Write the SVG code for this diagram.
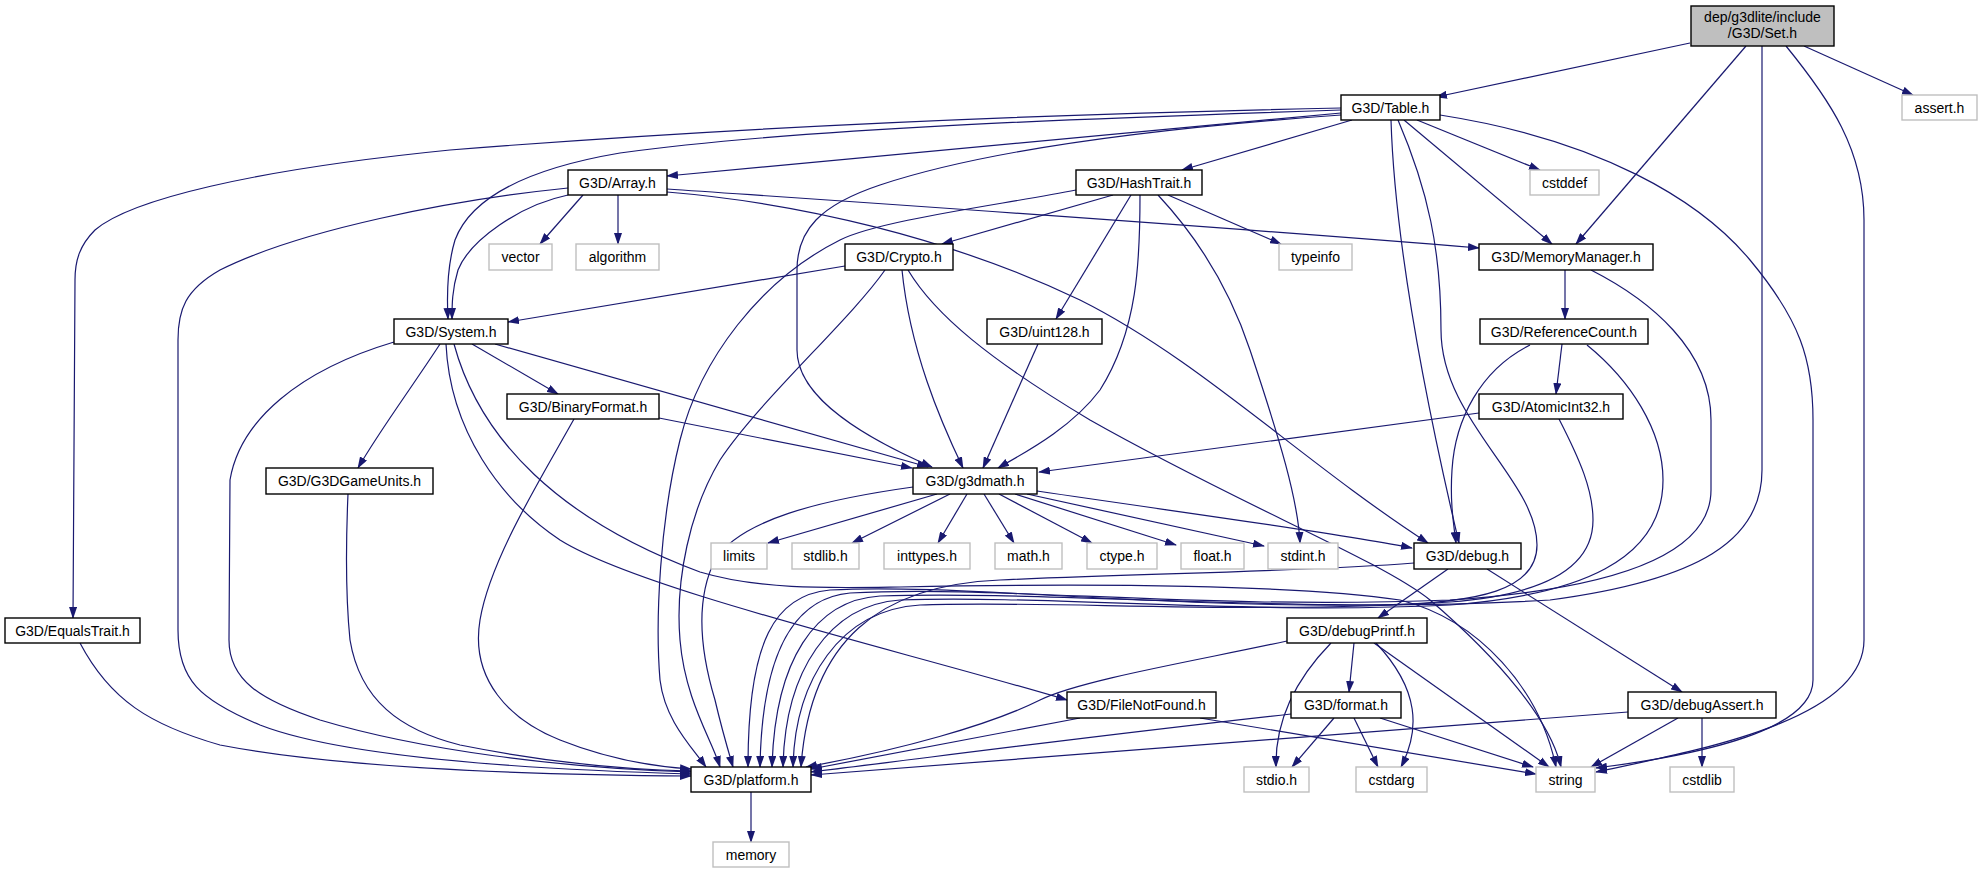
<svg xmlns="http://www.w3.org/2000/svg" width="1979" height="873" viewBox="0 0 1979 873">
<style>
.n rect{fill:#fff;stroke:#000;stroke-width:1.4}
.x rect{fill:#fff;stroke:#bfbfbf;stroke-width:1.4}
.s rect{fill:#bfbfbf;stroke:#000;stroke-width:1.4}
text{font-family:"Liberation Sans",Arial,sans-serif;font-size:14px;fill:#000;text-anchor:middle}
#edges path{fill:none;stroke:#191970;stroke-width:1.2;marker-end:url(#a)}
</style>
<defs>
<marker id="a" viewBox="0 0 12 8" refX="11" refY="4" markerWidth="12" markerHeight="8" markerUnits="userSpaceOnUse" orient="auto"><path d="M0,0 L12,4 L0,8 z" fill="#191970"/></marker>
</defs>
<rect width="1979" height="873" fill="#fff"/>
<g id="edges">
<!-- Set.h -->
<path d="M1690,43 L1436,97"/>
<path d="M1746,46 L1576,244"/>
<path d="M1762,46 L1762,470 C1762,540 1700,580 1550,600 C1300,615 1050,590 880,596 C815,600 775,660 772,767"/>
<path d="M1786,46 C1830,100 1864,150 1864,220 L1864,640 C1864,720 1700,750 1596,772"/>
<path d="M1804,46 L1913,95"/>
<!-- Table.h -->
<path d="M1341,108 C1000,115 700,130 450,150 C250,170 130,200 95,230 C80,245 75,260 75,280 L73,618"/>
<path d="M1341,110 C1100,118 800,128 620,153 C520,170 470,200 455,240 C446,270 447,300 448,319"/>
<path d="M1341,113 L667,176"/>
<path d="M1341,115 C1200,125 1000,145 880,185 C820,205 797,230 797,270 L797,350 C797,400 870,440 932,467"/>
<path d="M1352,120 L1182,170"/>
<path d="M1417,120 L1540,170"/>
<path d="M1404,120 L1552,244"/>
<path d="M1391,120 C1395,250 1430,420 1459,543"/>
<path d="M1398,120 C1428,190 1441,250 1441,330 C1441,420 1537,480 1537,545 C1537,590 1480,603 1380,605 C1150,608 950,583 830,590 C775,595 748,640 748,767"/>
<path d="M1440,115 C1600,140 1700,200 1750,260 C1800,320 1813,360 1813,420 L1813,680 C1813,730 1700,755 1596,768"/>
<!-- Array.h -->
<path d="M583,195 L540,244"/>
<path d="M618,195 L618,244"/>
<path d="M568,195 C520,205 470,240 458,270 C452,290 452,305 452,319"/>
<path d="M568,188 C450,200 300,230 220,270 C185,290 178,310 178,340 L178,630 C178,680 200,700 260,725 C350,760 550,770 691,774"/>
<path d="M667,189 C900,205 1200,225 1479,248"/>
<path d="M667,192 C800,203 950,238 1080,300 C1200,360 1300,460 1428,543"/>
<!-- HashTrait.h -->
<path d="M1113,195 L942,244"/>
<path d="M1131,195 L1056,319"/>
<path d="M1140,195 C1140,260 1138,330 1100,390 C1070,430 1020,455 998,468"/>
<path d="M1158,195 C1200,240 1230,290 1250,350 C1280,440 1298,500 1300,543"/>
<path d="M1168,195 L1281,244"/>
<path d="M1076,190 C1000,205 880,220 840,240 C760,280 700,360 680,440 C660,520 655,620 660,680 C665,720 690,745 706,767"/>
<!-- Crypto.h -->
<path d="M845,266 L508,322"/>
<path d="M902,270 C910,350 940,420 963,468"/>
<path d="M908,270 C935,315 990,360 1090,420 C1240,505 1380,560 1430,600 C1500,660 1550,720 1561,767"/>
<path d="M885,270 C850,320 760,400 720,460 C690,510 675,580 680,640 C685,700 712,740 720,767"/>
<!-- uint128.h -->
<path d="M1038,344 L983,468"/>
<!-- System.h -->
<path d="M440,344 C410,390 380,430 358,468"/>
<path d="M472,344 L558,394"/>
<path d="M495,344 L928,467"/>
<path d="M446,344 C450,430 500,500 560,540 C640,590 900,650 1067,700"/>
<path d="M454,344 C480,440 560,520 700,572 C760,590 830,588 900,587 C1100,583 1300,585 1400,600 C1480,620 1540,690 1556,767"/>
<path d="M394,342 C300,370 240,420 230,480 L229,640 C229,680 260,700 320,720 C420,750 560,768 691,772"/>
<!-- BinaryFormat.h -->
<path d="M659,418 L912,468"/>
<path d="M574,419 C540,480 490,560 480,620 C470,680 510,720 560,740 C610,760 660,767 691,769"/>
<!-- G3DGameUnits.h -->
<path d="M348,494 C346,540 346,600 350,640 C360,700 400,730 460,745 C560,765 640,770 691,771"/>
<!-- EqualsTrait.h -->
<path d="M80,643 C110,700 150,725 220,745 C350,770 550,775 691,776"/>
<!-- g3dmath.h -->
<path d="M937,494 L768,543"/>
<path d="M950,494 L852,543"/>
<path d="M967,494 L938,543"/>
<path d="M984,494 L1014,543"/>
<path d="M999,494 L1092,543"/>
<path d="M1015,494 L1176,545"/>
<path d="M1027,494 L1264,546"/>
<path d="M1037,491 C1200,515 1350,535 1412,548"/>
<path d="M913,487 C820,500 740,520 715,560 C695,600 700,650 715,700 C722,730 728,750 733,767"/>
<!-- MemoryManager.h -->
<path d="M1565,270 L1565,319"/>
<path d="M1591,270 C1650,300 1711,350 1711,420 L1711,490 C1711,560 1600,590 1450,600 C1200,610 1000,585 850,593 C795,598 762,650 760,767"/>
<!-- ReferenceCount.h -->
<path d="M1562,344 L1556,394"/>
<path d="M1530,345 C1480,370 1455,420 1452,470 C1450,500 1453,520 1456,543"/>
<path d="M1587,345 C1630,380 1663,430 1663,480 C1663,560 1580,595 1450,605 C1250,615 1050,595 900,600 C830,605 785,670 783,767"/>
<!-- AtomicInt32.h -->
<path d="M1479,413 L1039,472"/>
<path d="M1559,419 C1580,460 1593,490 1593,520 C1593,570 1540,595 1450,602 C1250,615 1050,600 920,605 C840,610 795,680 793,767"/>
<!-- debug.h -->
<path d="M1448,569 L1378,618"/>
<path d="M1487,569 L1682,692"/>
<path d="M1414,563 C1300,572 1150,573 1000,580 C880,585 810,640 801,767"/>
<!-- debugPrintf.h -->
<path d="M1354,643 L1349,692"/>
<path d="M1331,643 C1295,680 1275,720 1276,767"/>
<path d="M1376,643 C1420,690 1420,730 1401,767"/>
<path d="M1374,643 L1549,767"/>
<path d="M1287,641 C1200,660 1080,680 1040,700 C990,725 900,750 806,767"/>
<!-- format.h -->
<path d="M1334,718 L1292,767"/>
<path d="M1354,718 L1378,767"/>
<path d="M1380,718 L1533,767"/>
<path d="M1291,714 C1100,735 950,755 811,772"/>
<!-- FileNotFound.h -->
<path d="M1200,718 L1536,774"/>
<path d="M1080,718 L811,769"/>
<!-- debugAssert.h -->
<path d="M1678,718 L1591,767"/>
<path d="M1702,718 L1702,767"/>
<path d="M1628,712 C1300,735 1000,760 811,775"/>
<!-- platform.h -->
<path d="M751,792 L751,842"/>
</g>
<g id="n-set" class="s"><rect x="1691" y="6" width="143" height="40"/><text x="1762.5" y="22">dep/g3dlite/include</text><text x="1762.5" y="38">/G3D/Set.h</text></g>
<g id="n-table" class="n"><rect x="1341" y="95" width="99" height="25"/><text x="1390.5" y="112.5">G3D/Table.h</text></g>
<g id="n-assert" class="x"><rect x="1902" y="95" width="75" height="25"/><text x="1939.5" y="112.5">assert.h</text></g>
<g id="n-array" class="n"><rect x="568" y="170" width="99" height="25"/><text x="617.5" y="187.5">G3D/Array.h</text></g>
<g id="n-hashtrait" class="n"><rect x="1076" y="170" width="126" height="25"/><text x="1139" y="187.5">G3D/HashTrait.h</text></g>
<g id="n-cstddef" class="x"><rect x="1530" y="170" width="69" height="25"/><text x="1564.5" y="187.5">cstddef</text></g>
<g id="n-vector" class="x"><rect x="489" y="244" width="63" height="26"/><text x="520.5" y="262">vector</text></g>
<g id="n-algorithm" class="x"><rect x="576" y="244" width="83" height="26"/><text x="617.5" y="262">algorithm</text></g>
<g id="n-crypto" class="n"><rect x="845" y="244" width="108" height="26"/><text x="899" y="262">G3D/Crypto.h</text></g>
<g id="n-typeinfo" class="x"><rect x="1279" y="244" width="73" height="26"/><text x="1315.5" y="262">typeinfo</text></g>
<g id="n-memmgr" class="n"><rect x="1479" y="244" width="174" height="26"/><text x="1566" y="262">G3D/MemoryManager.h</text></g>
<g id="n-system" class="n"><rect x="394" y="319" width="114" height="25"/><text x="451" y="336.5">G3D/System.h</text></g>
<g id="n-uint128" class="n"><rect x="987" y="319" width="115" height="25"/><text x="1044.5" y="336.5">G3D/uint128.h</text></g>
<g id="n-refcount" class="n"><rect x="1480" y="319" width="168" height="25"/><text x="1564" y="336.5">G3D/ReferenceCount.h</text></g>
<g id="n-binfmt" class="n"><rect x="507" y="394" width="152" height="25"/><text x="583" y="411.5">G3D/BinaryFormat.h</text></g>
<g id="n-atomic" class="n"><rect x="1479" y="394" width="144" height="25"/><text x="1551" y="411.5">G3D/AtomicInt32.h</text></g>
<g id="n-gameunits" class="n"><rect x="266" y="468" width="167" height="26"/><text x="349.5" y="486">G3D/G3DGameUnits.h</text></g>
<g id="n-g3dmath" class="n"><rect x="913" y="468" width="124" height="26"/><text x="975" y="486">G3D/g3dmath.h</text></g>
<g id="n-limits" class="x"><rect x="711" y="543" width="56" height="26"/><text x="739" y="561">limits</text></g>
<g id="n-stdlib" class="x"><rect x="792" y="543" width="67" height="26"/><text x="825.5" y="561">stdlib.h</text></g>
<g id="n-inttypes" class="x"><rect x="884" y="543" width="86" height="26"/><text x="927" y="561">inttypes.h</text></g>
<g id="n-math" class="x"><rect x="995" y="543" width="67" height="26"/><text x="1028.5" y="561">math.h</text></g>
<g id="n-ctype" class="x"><rect x="1087" y="543" width="70" height="26"/><text x="1122" y="561">ctype.h</text></g>
<g id="n-float" class="x"><rect x="1181" y="543" width="63" height="26"/><text x="1212.5" y="561">float.h</text></g>
<g id="n-stdint" class="x"><rect x="1268" y="543" width="70" height="26"/><text x="1303" y="561">stdint.h</text></g>
<g id="n-debug" class="n"><rect x="1414" y="543" width="107" height="26"/><text x="1467.5" y="561">G3D/debug.h</text></g>
<g id="n-equals" class="n"><rect x="5" y="618" width="135" height="25"/><text x="72.5" y="635.5">G3D/EqualsTrait.h</text></g>
<g id="n-debugprintf" class="n"><rect x="1287" y="618" width="140" height="25"/><text x="1357" y="635.5">G3D/debugPrintf.h</text></g>
<g id="n-filenotfound" class="n"><rect x="1067" y="692" width="149" height="26"/><text x="1141.5" y="710">G3D/FileNotFound.h</text></g>
<g id="n-format" class="n"><rect x="1291" y="692" width="110" height="26"/><text x="1346" y="710">G3D/format.h</text></g>
<g id="n-debugassert" class="n"><rect x="1628" y="692" width="148" height="26"/><text x="1702" y="710">G3D/debugAssert.h</text></g>
<g id="n-platform" class="n"><rect x="691" y="767" width="120" height="25"/><text x="751" y="784.5">G3D/platform.h</text></g>
<g id="n-stdio" class="x"><rect x="1244" y="767" width="65" height="25"/><text x="1276.5" y="784.5">stdio.h</text></g>
<g id="n-cstdarg" class="x"><rect x="1356" y="767" width="71" height="25"/><text x="1391.5" y="784.5">cstdarg</text></g>
<g id="n-string" class="x"><rect x="1536" y="767" width="59" height="25"/><text x="1565.5" y="784.5">string</text></g>
<g id="n-cstdlib" class="x"><rect x="1670" y="767" width="64" height="25"/><text x="1702" y="784.5">cstdlib</text></g>
<g id="n-memory" class="x"><rect x="713" y="842" width="76" height="25"/><text x="751" y="859.5">memory</text></g>
</svg>
